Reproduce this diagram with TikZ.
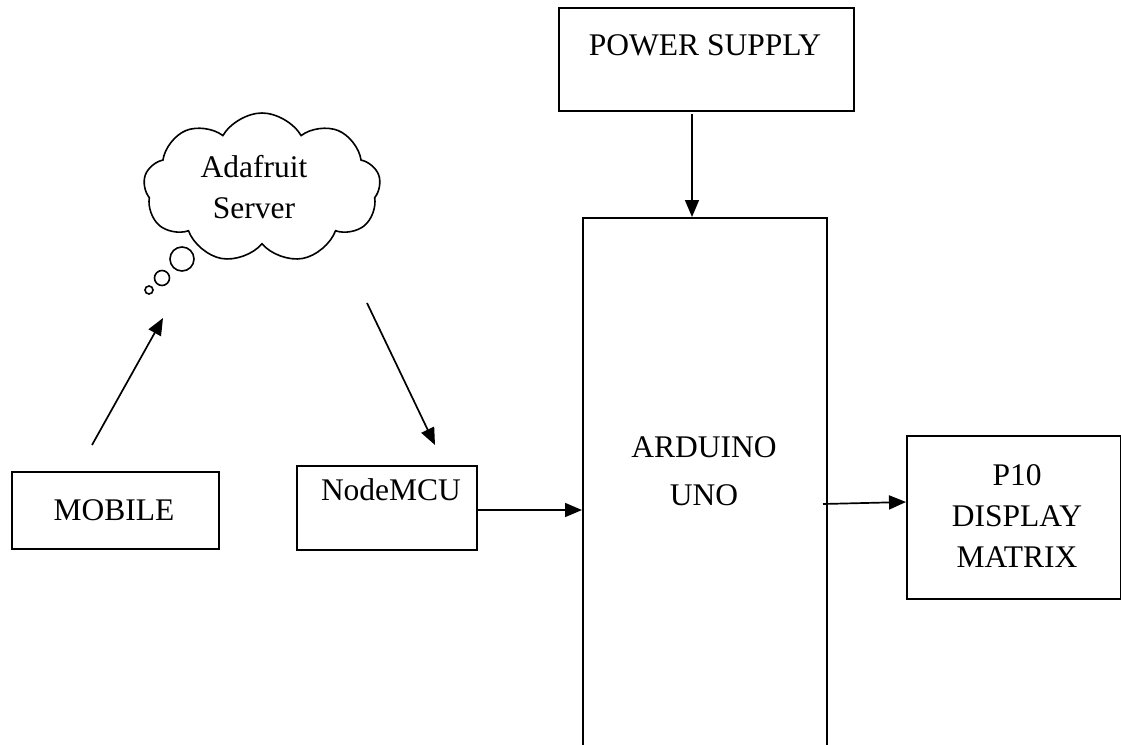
\documentclass[tikz,border=0pt]{standalone}
\usepackage{fontspec}
\setmainfont{Liberation Serif}
\usetikzlibrary{arrows.meta,shapes.symbols}
\begin{document}
\begin{tikzpicture}[x=1pt,y=-1pt,
  box/.style={draw,line width=1.5pt,inner sep=0pt,anchor=north west},
  txt/.style={font=\fontsize{31.5}{41}\selectfont,align=center,inner sep=0pt},
  conn/.style={line width=1.7pt,-{Triangle[length=17pt,width=14pt]}},
  bub/.style={draw,line width=1.6pt,circle,inner sep=0pt}]
\useasboundingbox (0,0) rectangle (1121,744);
\clip (0,0) rectangle (1121,744);
% boxes
\node[box,minimum width=295pt,minimum height=103pt] (ps) at (558,7) {};
\node[box,minimum width=244pt,minimum height=540pt] (ard) at (582,217) {};
\node[box,minimum width=207pt,minimum height=77pt] (mob) at (11,471) {};
\node[box,minimum width=180pt,minimum height=84pt] (mcu) at (296,465) {};
\node[box,minimum width=214pt,minimum height=163pt] (p10) at (906,435) {};
% texts
\node[txt] (tps) at (705,45) {POWER SUPPLY};
\node[txt,font=\fontsize{31.5}{48}\selectfont] (tard) at (704,471) {ARDUINO\\UNO};
\node[txt] (tmob) at (114,510) {MOBILE};
\node[txt] (tmcu) at (391,490) {NodeMCU};
\node[txt] (tp10) at (1017,516) {P10\\DISPLAY\\MATRIX};
% cloud
\node[draw,line width=1.6pt,cloud,cloud puffs=9,cloud puff arc=120,aspect=1.6,
  minimum width=237pt,minimum height=150pt,inner sep=0pt] (cloud) at (262,188) {};
\node[txt] (tcl) at (254,187) {Adafruit\\Server};
\node[bub,minimum size=24pt] (b1) at (182,259) {};
\node[bub,minimum size=15pt] (b2) at (162,278) {};
\node[bub,minimum size=8pt] (b3) at (149,290) {};
% connector ends
\coordinate (m1) at (92,445);
\coordinate (m2) at (163,318);
\coordinate (c1) at (367,303);
\coordinate (c2) at (435,445);
\coordinate (p1) at (692,114);
\coordinate (a1) at (823,504);
% connectors
\draw[conn] (m1) -- (m2);
\draw[conn] (c1) -- (c2);
\draw[conn] (p1) -- (ard.north -| p1);
\draw[conn] (mcu.east |- 0,510) -- (ard.west |- 0,510);
\draw[conn] (a1) -- (p10.west |- 0,502);
\end{tikzpicture}
\end{document}
